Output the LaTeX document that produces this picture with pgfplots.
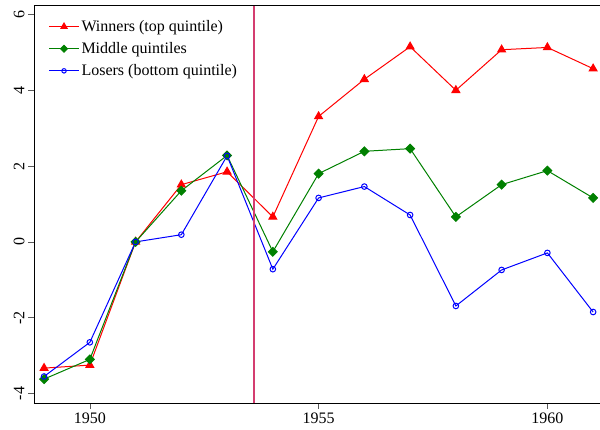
\documentclass[border=0pt]{standalone}
\usepackage{fontspec}
\setmainfont{Liberation Serif}
\usepackage{pgfplots}
\pgfplotsset{compat=1.18}
\definecolor{cranb}{RGB}{212,62,112}
\definecolor{sgreen}{RGB}{0,128,0}
\begin{document}
\begin{tikzpicture}
\begin{axis}[
  name=ax,
  scale only axis, width=566pt, height=398pt,
  xmin=1948.78, xmax=1961.15, ymin=-4.25, ymax=6.25,
  axis y line*=left, axis x line*=bottom,
  axis line style={-, black, line width=0.8pt},
  xtick={1950,1955,1960}, ytick={-4,-2,0,2,4,6},
  xticklabel style={/pgf/number format/1000 sep={}},
  tick align=outside, major tick length=6pt,
  tick style={gray!70!black, line width=0.6pt},
  yticklabel style={rotate=90, anchor=south},
  /pgf/number format/assume math mode=true,
  tick label style={font=\fontsize{16}{16}\selectfont},
  legend style={at={(0.02,0.972)}, anchor=north west,
    draw=none, fill=none,
    font=\fontsize{16}{18}\selectfont, row sep=5.5pt},
  legend cell align=left,
  legend image code/.code={\draw[mark repeat=2,mark phase=2, every mark/.append style={scale=0.8}] plot coordinates {(0pt,0pt)(15pt,0pt)(30pt,0pt)};},
]
\addplot[red, line width=1pt, mark=triangle*, mark size=4.5pt, mark options={solid}]
coordinates {(1949,-3.33)(1950,-3.25)(1951,0)(1952,1.51)(1953,1.85)(1954,0.66)(1955,3.31)(1956,4.29)(1957,5.15)(1958,4.0)(1959,5.07)(1960,5.13)(1961,4.57)};
\addlegendentry{Winners (top quintile)}
\addplot[sgreen, line width=1pt, mark=square*, mark size=3.1pt, mark options={rotate=45}]
coordinates {(1949,-3.62)(1950,-3.1)(1951,0)(1952,1.35)(1953,2.28)(1954,-0.26)(1955,1.8)(1956,2.39)(1957,2.46)(1958,0.66)(1959,1.51)(1960,1.88)(1961,1.16)};
\addlegendentry{Middle quintiles}
\addplot[blue, line width=1pt, mark=o, mark size=2.8pt]
coordinates {(1949,-3.55)(1950,-2.65)(1951,0)(1952,0.19)(1953,2.27)(1954,-0.72)(1955,1.16)(1956,1.46)(1957,0.71)(1958,-1.69)(1959,-0.74)(1960,-0.29)(1961,-1.85)};
\addlegendentry{Losers (bottom quintile)}
\addplot[cranb, line width=1.8pt, forget plot] coordinates {(1953.58,-4.25)(1953.58,6.25)};
\draw[black, line width=0.8pt] (rel axis cs:0,1) -- (rel axis cs:1,1);
\end{axis}
\pgfresetboundingbox
\path (ax.north west) ++(-34pt,5pt) coordinate (tl);
\path (ax.south east) ++(0pt,-27pt) coordinate (br);
\path (tl) rectangle (br);
\end{tikzpicture}
\end{document}
